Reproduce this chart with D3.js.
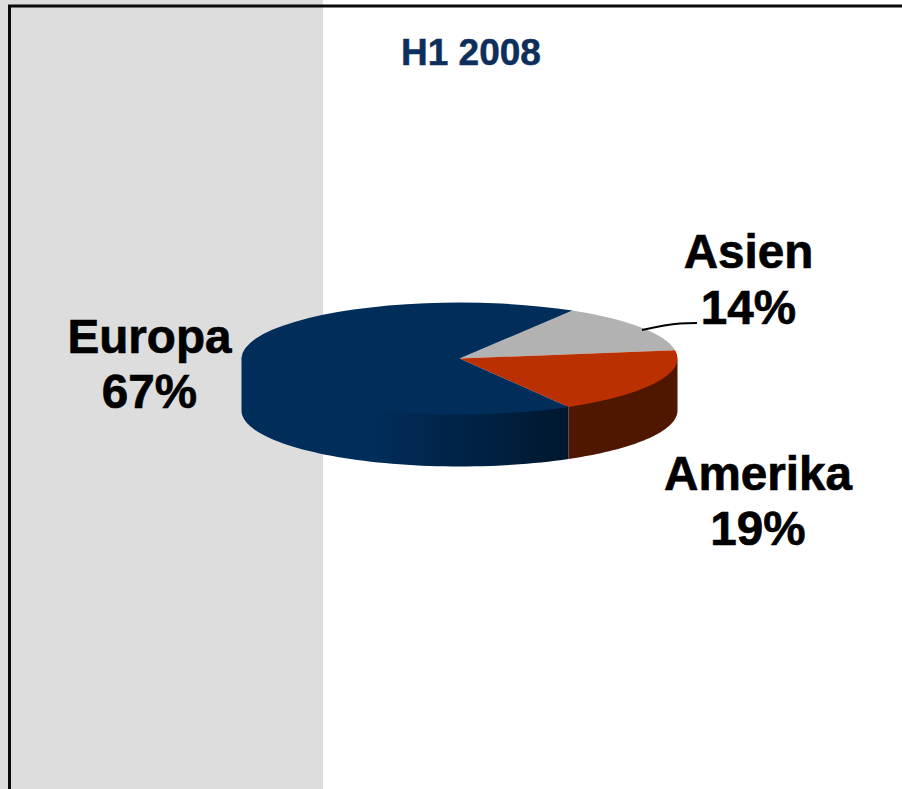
<!DOCTYPE html>
<html>
<head>
<meta charset="utf-8">
<title>H1 2008</title>
<style>
  html, body { margin: 0; padding: 0; background: #fff; }
  svg { display: block; }
  text { font-family: "Liberation Sans", Arial, sans-serif; font-weight: bold; }
</style>
</head>
<body>
<script src="https://d3js.org/d3.v7.min.js"></script>
<script>
  var regions = ["Asien", "Amerika", "Europa"];
  var shares = [14, 19, 67];
  var chartTitle = "H1 2008";
  var colors = ["#b2b2b2", "#bb3000", "#002d5a"];

  var width = 902, height = 789;
  var cx = 459.5, cy = 358.5, rx = 218, ry = 56, depth = 52;

  var svg = d3.select("body").append("svg")
      .attr("width", width)
      .attr("height", height);

  // grey panel and frame
  svg.append("rect").attr("x", 0).attr("y", 0).attr("width", 323).attr("height", height).attr("fill", "#dddddd");
  svg.append("path")
      .attr("d", "M9.5," + height + "V6H" + width)
      .attr("fill", "none").attr("stroke", "#0a0a0a").attr("stroke-width", 3);

  var defs = svg.append("defs");
  var grad = defs.append("linearGradient").attr("id", "side")
      .attr("gradientUnits", "userSpaceOnUse")
      .attr("x1", 242).attr("x2", 568).attr("y1", 0).attr("y2", 0);
  grad.append("stop").attr("offset", "0").attr("stop-color", "#002d5a");
  grad.append("stop").attr("offset", "0.4").attr("stop-color", "#002d5a");
  grad.append("stop").attr("offset", "1").attr("stop-color", "#00172f");

  // start of the first slice, measured on the flattened ellipse
  var start = 31.2 * Math.PI / 180;
  var pie = d3.pie().sort(null).startAngle(start).endAngle(start + 2 * Math.PI);
  var arcs = pie(shares);

  // circle to flattened ellipse
  function px(a) { return cx + rx * Math.sin(a); }
  function py(a) { return cy - ry * Math.cos(a); }

  var line = d3.line();

  // wall under the visible rim between two angles, tucked 2px under the top face
  function wall(a0, a1) {
    var top = d3.range(0, 61).map(function(i) {
      var a = a0 + (a1 - a0) * i / 60;
      return [px(a), py(a)];
    });
    var bottom = top.slice().reverse().map(function(p) { return [p[0], p[1] + depth]; });
    return line(top.map(function(p) { return [p[0], p[1] - 2]; }).concat(bottom)) + "Z";
  }

  var front = Math.PI / 2, back = 3 * Math.PI / 2;
  // Amerika wall
  svg.append("path").attr("d", wall(front, arcs[1].endAngle)).attr("fill", "#4f1600");
  // Europa wall
  svg.append("path").attr("d", wall(arcs[2].startAngle, back)).attr("fill", "url(#side)");

  // top face
  var arc = d3.arc().innerRadius(0).outerRadius(rx);
  svg.append("g")
      .attr("transform", "translate(" + cx + "," + cy + ") scale(1," + (ry / rx) + ")")
      .selectAll("path")
      .data(arcs)
      .enter()
      .append("path")
      .attr("d", arc)
      .attr("fill", function(d, i) { return colors[i]; });

  // leader line for Asien
  svg.append("path")
      .attr("d", d3.line().curve(d3.curveMonotoneX)([[642, 330], [680, 323.5], [697, 323]]))
      .attr("fill", "none").attr("stroke", "#000").attr("stroke-width", 2);

  svg.append("text").text(chartTitle)
      .attr("x", 471).attr("y", 64.5).attr("text-anchor", "middle")
      .attr("font-size", 37).attr("fill", "#0c2f5c")
      .attr("stroke", "#0c2f5c").attr("stroke-width", 0.5);

  var labelPos = [
    {x: 748.5, y1: 268, y2: 324},
    {x: 758, y1: 489.5, y2: 545},
    {x: 149.5, y1: 353, y2: 408}
  ];
  regions.forEach(function(name, i) {
    var t = svg.append("text").attr("text-anchor", "middle").attr("font-size", 47.6)
        .attr("fill", "#000").attr("stroke", "#000").attr("stroke-width", 0.7);
    t.append("tspan").attr("x", labelPos[i].x).attr("y", labelPos[i].y1).text(name);
    t.append("tspan").attr("x", labelPos[i].x).attr("y", labelPos[i].y2).text(shares[i] + "%");
  });
</script>
</body>
</html>
